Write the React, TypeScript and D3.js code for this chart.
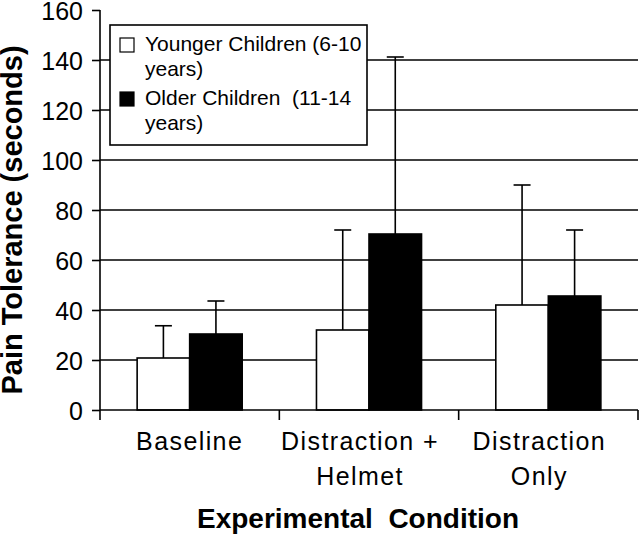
import React, { useEffect, useRef } from 'react';
import * as d3 from 'd3';

const width = 640;
const height = 535;
const margin = { left: 100, right: 2, top: 10, bottom: 125 };
const font = 'Liberation Sans, Arial, Helvetica, sans-serif';
const sw = 1.6;

// data (means and +1 SD)
const conditions = ['Baseline', 'Distraction + Helmet', 'Distraction Only'];
const conditionLines = [['Baseline'], ['Distraction +', 'Helmet'], ['Distraction', 'Only']];
const groups = ['Younger', 'Older'];
const groupLabels = [['Younger Children (6-10', 'years)'], ['Older Children  (11-14', 'years)']];
const youngerMeans = [20.8, 32, 42];
const youngerSd = [12.9, 40, 48];
const olderMeans = [30.4, 70.4, 45.6];
const olderSd = [13.2, 70.8, 26.4];
const yTicks = [0, 20, 40, 60, 80, 100, 120, 140, 160];
const fills = ['#ffffff', '#000000'];

const y = d3.scaleLinear()
  .domain([0, 160])
  .range([height - margin.bottom, margin.top]);

const x = d3.scaleBand()
  .domain(conditions)
  .range([margin.left, width - margin.right]);

const xInner = d3.scaleBand()
  .domain(groups)
  .range([0, x.bandwidth()])
  .paddingOuter(0.707);

export default function App() {
  const ref = useRef<SVGSVGElement>(null);

  useEffect(() => {
    const svg = d3.select(ref.current);
    svg.selectAll('*').remove();
    const y0 = y(0);

    // gridlines
    svg.append('g')
      .selectAll('line')
      .data(yTicks.filter(t => t > 0 && t < 160))
      .enter().append('line')
      .attr('x1', margin.left)
      .attr('x2', width - margin.right)
      .attr('y1', d => y(d))
      .attr('y2', d => y(d))
      .attr('stroke', '#000')
      .attr('stroke-width', sw);

    // bars
    const rows = conditions.flatMap((c, i) => [
      { c, g: groups[0], mean: youngerMeans[i], sd: youngerSd[i], fill: fills[0] },
      { c, g: groups[1], mean: olderMeans[i], sd: olderSd[i], fill: fills[1] },
    ]);

    const bars = svg.append('g');
    bars.selectAll('rect')
      .data(rows)
      .enter().append('rect')
      .attr('x', d => x(d.c)! + xInner(d.g)!)
      .attr('y', d => y(d.mean))
      .attr('width', xInner.bandwidth())
      .attr('height', d => y0 - y(d.mean))
      .attr('fill', d => d.fill)
      .attr('stroke', '#000')
      .attr('stroke-width', sw);

    // error bars (upper only)
    const err = svg.append('g').attr('stroke', '#000').attr('stroke-width', sw);
    const cx = (d: typeof rows[0]) => x(d.c)! + xInner(d.g)! + xInner.bandwidth() / 2;
    err.selectAll('line.v')
      .data(rows)
      .enter().append('line')
      .attr('class', 'v')
      .attr('x1', cx)
      .attr('x2', cx)
      .attr('y1', d => y(d.mean))
      .attr('y2', d => y(d.mean + d.sd));
    err.selectAll('line.cap')
      .data(rows)
      .enter().append('line')
      .attr('class', 'cap')
      .attr('x1', d => cx(d) - 8.5)
      .attr('x2', d => cx(d) + 8.5)
      .attr('y1', d => y(d.mean + d.sd))
      .attr('y2', d => y(d.mean + d.sd));

    // y axis
    const yAxis = svg.append('g')
      .attr('transform', `translate(${margin.left},0)`)
      .call(d3.axisLeft(y).tickValues(yTicks).tickSize(8).tickPadding(9))
      .call(g => g.select('.domain').remove());
    yAxis.selectAll('line').attr('stroke', '#000').attr('stroke-width', sw);
    yAxis.selectAll('text')
      .attr('font-family', font)
      .attr('font-size', 25)
      .attr('fill', '#000')
      .attr('dy', '0.36em');
    yAxis.append('line')
      .attr('x1', 0).attr('x2', 0)
      .attr('y1', margin.top).attr('y2', y0 + 10)
      .attr('stroke', '#000').attr('stroke-width', sw);

    // x axis
    const xAxis = svg.append('g');
    xAxis.append('line')
      .attr('x1', margin.left).attr('x2', width - margin.right)
      .attr('y1', y0).attr('y2', y0)
      .attr('stroke', '#000').attr('stroke-width', sw);
    xAxis.selectAll('line.tick')
      .data(conditions)
      .enter().append('line')
      .attr('class', 'tick')
      .attr('x1', d => x(d)! + x.bandwidth())
      .attr('x2', d => x(d)! + x.bandwidth())
      .attr('y1', y0)
      .attr('y2', y0 + 10)
      .attr('stroke', '#000').attr('stroke-width', sw);

    const xLabels = xAxis.selectAll('text')
      .data(conditions)
      .enter().append('text')
      .attr('font-family', font)
      .attr('font-size', 25)
      .attr('letter-spacing', 1.4)
      .attr('text-anchor', 'middle')
      .attr('transform', (d, i) => `translate(${x(d)! + x.bandwidth() / 2 - (i === 0 ? 0 : 9)},${y0 + 40})`);
    xLabels.selectAll('tspan')
      .data((d, i) => conditionLines[i])
      .enter().append('tspan')
      .attr('x', 0)
      .attr('dy', (d, i) => i === 0 ? 0 : 35)
      .text(d => d);

    // axis titles
    svg.append('text')
      .attr('x', (margin.left + width - margin.right) / 2 - 11)
      .attr('y', 528)
      .attr('text-anchor', 'middle')
      .attr('font-family', font)
      .attr('font-weight', 'bold')
      .attr('font-size', 28)
      .style('white-space', 'pre')
      .text('Experimental  Condition');

    svg.append('text')
      .attr('transform', `translate(22,220) rotate(-90)`)
      .attr('text-anchor', 'middle')
      .attr('font-family', font)
      .attr('font-weight', 'bold')
      .attr('font-size', 29)
      .text('Pain Tolerance (seconds)');

    // legend
    const legend = svg.append('g').attr('transform', 'translate(110,25)');
    legend.append('rect')
      .attr('width', 257)
      .attr('height', 120)
      .attr('fill', '#fff')
      .attr('stroke', '#000')
      .attr('stroke-width', sw);
    const items = legend.selectAll('g.item')
      .data(groups)
      .enter().append('g')
      .attr('class', 'item')
      .attr('transform', (d, i) => `translate(0,${26 + i * 54})`);
    items.append('rect')
      .attr('x', 10)
      .attr('y', -13)
      .attr('width', 14)
      .attr('height', 14)
      .attr('fill', (d, i) => fills[i])
      .attr('stroke', '#000')
      .attr('stroke-width', 1.2);
    const itemText = items.append('text')
      .attr('font-family', font)
      .attr('font-size', 21)
      .style('white-space', 'pre');
    itemText.selectAll('tspan')
      .data((d, i) => groupLabels[i])
      .enter().append('tspan')
      .attr('x', 35)
      .attr('dy', (d, i) => i === 0 ? 0 : 25)
      .text(d => d);
  }, []);

  return <svg ref={ref} width={width} height={height}
    style={{ position: 'absolute', left: 0, top: 0, background: '#fff' }} />;
}
